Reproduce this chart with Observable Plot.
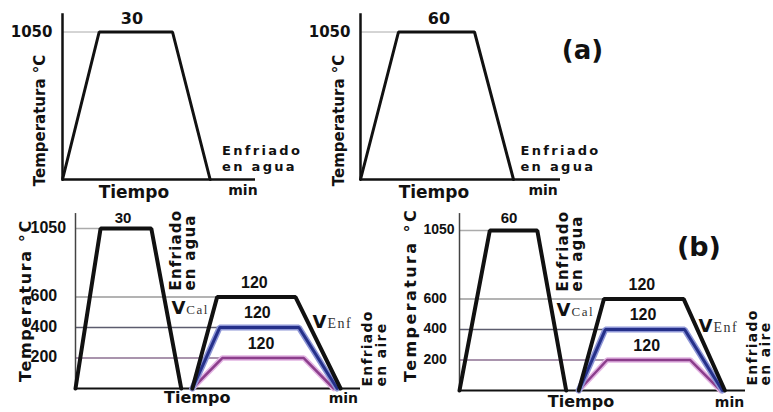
<!DOCTYPE html>
<html><head><meta charset="utf-8">
<script src="https://cdn.jsdelivr.net/npm/d3@7"></script>
<script src="https://cdn.jsdelivr.net/npm/@observablehq/plot@0.6"></script>
<style>
html,body{margin:0;padding:0;background:#fff;}
#chart{position:relative;width:773px;height:412px;overflow:hidden;background:#fff;}
#chart svg{position:absolute;left:0;top:0;}
</style></head><body><div id="chart"></div>
<script>
// ---------------- data ----------------
const soakTemp = 1050;                 // °C
const soakMinutes = [30, 60];          // hold time, left / right column
const temperTemps = [600, 400, 200];   // °C
const temperMinutes = [120, 120, 120]; // hold time at each temper level
const yTicksA = [1050];
const yTicksB = [1050, 600, 400, 200];
// schematic time axis (0–100; the figure has no numeric time scale)
const quenchTimesA = [0, 19, 57, 76.5];
const quenchTimesB = [[0, 8.8, 26.6, 37.1], [0, 10.6, 27.2, 37.3]];
const temperStartB = [41, 41.7];
const temperTimesB = [
  [[49.7, 77.2, 93.0], [50.6, 78.4, 91.8], [51.5, 80.1, 90.6]],
  [[50.5, 78.4, 92.8], [51.0, 78.7, 91.9], [51.6, 80.7, 91.3]]
];
const yTitle = "Temperatura °C";
const xTitle = "Tiempo";
const unitLabel = "min";
const waterLabel = "Enfriado\nen agua";
const airLabel = "Enfriado\nen aire";
const vCal = ["V", "Cal"];
const vEnf = ["V", "Enf"];
const partLabels = ["(a)", "(b)"];

// ---------------- helpers ----------------
const SANS = "'DejaVu Sans', Verdana, sans-serif";
const ARIAL = "'Liberation Sans', Arial, sans-serif";
const SERIF = "'Liberation Serif', 'Times New Roman', serif";
const INK = "#111";

function profile(times, temp) {
  return [{t: times[0], v: 0}, {t: times[1], v: temp}, {t: times[2], v: temp}, {t: times[3], v: 0}];
}
function txt(value, t, v, o = {}) {
  return Plot.text([value], {x: () => t, y: () => v, text: d => d, fill: INK,
    fontWeight: "bold", fontFamily: SANS, ...o});
}
function frame(xr, yr, marks) {
  return Plot.plot({
    width: 773, height: 412, marginTop: 0, marginRight: 0, marginBottom: 0, marginLeft: 0,
    x: {domain: [0, 100], range: xr, axis: null},
    y: {domain: [0, soakTemp], range: yr, axis: null},
    style: {background: "transparent", overflow: "visible"},
    marks
  });
}
function spacing(svg, map) {
  svg.querySelectorAll("text, tspan").forEach(el => {
    if (el.querySelector("tspan")) return;
    const k = el.textContent;
    if (k in map) el.style.letterSpacing = map[k] + "px";
  });
  return svg;
}

// ---------------- panel configs (annotation anchors in data units) ----------------
const cfgA = [
  {xr: [62, 255], yr: [179, 31.5], axisTop: 1180, hold: [36, 1145], yT: [-11.4, 420], xT: [37, -90], water: [82.7, 248], unit: [93.5, -78]},
  {xr: [360, 560], yr: [179, 31.5], axisTop: 1180, hold: [39.2, 1146], yT: [-10.9, 420], xT: [36.7, -90], water: [80, 248], unit: [91.3, -78], part: [111, 918]}
];
const cfgB = [
  {xr: [75, 360], yr: [388, 228], axisTop: 1148, tickDx: -45, tickSize: 16, hold: [16.7, 1116], yT: [-17.5, 577], yls: 1.6,
   xT: [42.7, -62], water: [38, 643], vCal: [33.7, 38.9, 492], vEnf: [83.2, 88.4, 400], air: [105.0, 13], unit: [94, -66]},
  {xr: [459, 745], yr: [390, 230], axisTop: 1161, tickDx: -36, tickSize: 14, hold: [17.3, 1129], yT: [-17.1, 627], yls: 2.4,
   xT: [42.5, -75], water: [38.8, 650], vCal: [33.9, 39.2, 492], vEnf: [83.6, 88.8, 387], air: [104.8, 33], unit: [94.4, -77], part: [83.7, 938]}
];

const chart = document.getElementById("chart");

// ---------------- (a) panels ----------------
cfgA.forEach((c, i) => {
  const marks = [
    Plot.ruleY(yTicksA, {y: d => d, x1: () => 0, x2: () => quenchTimesA[1], stroke: "#aaa", strokeWidth: 1}),
    Plot.ruleX([0], {x: d => d, y1: () => 0, y2: () => c.axisTop, stroke: INK, strokeWidth: 2.5}),
    Plot.ruleY([0], {y: d => d, x1: () => 0, x2: () => 100, stroke: INK, strokeWidth: 2.5}),
    Plot.line(profile(quenchTimesA, soakTemp), {x: "t", y: "v", stroke: INK, strokeWidth: 3, strokeLinejoin: "miter"}),
    Plot.text(yTicksA, {x: () => 0, y: d => d, text: d => String(d), textAnchor: "end", dx: -10,
      fontSize: 15, fontWeight: "bold", fontFamily: SANS, fill: INK}),
    txt(String(soakMinutes[i]), c.hold[0], c.hold[1], {fontSize: 16}),
    txt(yTitle, c.yT[0], c.yT[1], {rotate: -90, fontSize: 15}),
    txt(xTitle, c.xT[0], c.xT[1], {fontSize: 17}),
    txt(waterLabel, c.water[0], c.water[1], {textAnchor: "start", lineAnchor: "top", lineHeight: 1.17, fontSize: 13}),
    txt(unitLabel, c.unit[0], c.unit[1], {fontSize: 14})
  ];
  if (c.part) marks.push(txt(partLabels[0], c.part[0], c.part[1], {fontSize: 26}));
  const svg = frame(c.xr, c.yr, marks);
  spacing(svg, {"Enfriado": 2.3, "en agua": 2.3});
  chart.appendChild(svg);
});

// ---------------- (b) panels ----------------
const gridColor = {1050: "#ababab", 600: "#9a9a9a", 400: "#5c5c6e", 200: "#8c7092"};
const temperStyle = [
  {stroke: INK, width: 4},
  {stroke: "#25308a", halo: "#8e96d6", width: 3},
  {stroke: "#8c3e8c", halo: "#e2b4e2", width: 2.5}
];
cfgB.forEach((c, i) => {
  const qt = quenchTimesB[i];
  const tt = temperTimesB[i];
  const gridEnd = v => v === soakTemp ? qt[1] : tt[temperTemps.indexOf(v)][0];
  const marks = [
    Plot.ruleY(yTicksB, {y: d => d, x1: () => 0, x2: d => gridEnd(d), stroke: d => gridColor[d], strokeWidth: 1.5}),
    Plot.ruleX([0], {x: d => d, y1: () => 0, y2: () => c.axisTop, stroke: "#444", strokeWidth: 1.5}),
    Plot.ruleY([0], {y: d => d, x1: () => 0, x2: () => 100, stroke: INK, strokeWidth: 2}),
    Plot.line(profile(qt, soakTemp), {x: "t", y: "v", stroke: INK, strokeWidth: 4, strokeLinejoin: "miter"})
  ];
  [2, 1, 0].forEach(k => {
    const p = profile([temperStartB[i], ...tt[k]], temperTemps[k]);
    const s = temperStyle[k];
    if (s.halo) marks.push(Plot.line(p, {x: "t", y: "v", stroke: s.halo, strokeWidth: s.width + 3, strokeLinejoin: "miter"}));
    marks.push(Plot.line(p, {x: "t", y: "v", stroke: s.stroke, strokeWidth: s.width, strokeLinejoin: "miter"}));
  });
  marks.push(
    Plot.text(yTicksB, {x: () => 0, y: d => d, text: d => String(d), textAnchor: "start", dx: c.tickDx, dy: -1,
      fontSize: c.tickSize, fontWeight: "bold", fontFamily: ARIAL, fill: INK}),
    Plot.text(temperTemps, {x: (d, k) => (tt[k][0] + tt[k][1]) / 2, y: d => d, text: (d, k) => String(temperMinutes[k]),
      dy: -14.5, dx: -2, fontSize: 16, fontWeight: "bold", fontFamily: ARIAL, fill: INK}),
    txt(String(soakMinutes[i]), c.hold[0], c.hold[1], {fontSize: 15, fontFamily: ARIAL}),
    txt(yTitle, c.yT[0], c.yT[1], {rotate: -90, fontSize: 16}),
    txt(xTitle, c.xT[0], c.xT[1], {fontSize: 16}),
    txt(unitLabel, c.unit[0], c.unit[1], {fontSize: 14}),
    txt(waterLabel, c.water[0], c.water[1], {rotate: -90, textAnchor: "start", lineHeight: 0.9, fontSize: 15}),
    txt(airLabel, c.air[0], c.air[1], {rotate: -90, textAnchor: "start", lineHeight: 0.95, fontSize: 14}),
    txt(vCal[0], c.vCal[0], c.vCal[2], {textAnchor: "start", lineAnchor: "bottom", fontSize: 18}),
    txt(vCal[1], c.vCal[1], c.vCal[2], {textAnchor: "start", lineAnchor: "bottom", fontSize: 13, fontWeight: "normal", fontFamily: SERIF, fill: "#333"}),
    txt(vEnf[0], c.vEnf[0], c.vEnf[2], {textAnchor: "start", lineAnchor: "bottom", fontSize: 18}),
    txt(vEnf[1], c.vEnf[1], c.vEnf[2], {textAnchor: "start", lineAnchor: "bottom", fontSize: 14, fontWeight: "normal", fontFamily: SERIF, fill: "#333"})
  );
  if (c.part) marks.push(txt(partLabels[1], c.part[0], c.part[1], {fontSize: 27}));
  const svg = frame(c.xr, c.yr, marks);
  const ls = {"Enfriado": 1.2, "en agua": 1.2, "en aire": 1.3, "Cal": 1.5, "Enf": 1.5};
  ls[yTitle] = c.yls;
  spacing(svg, ls);
  chart.appendChild(svg);
});
</script></body></html>
